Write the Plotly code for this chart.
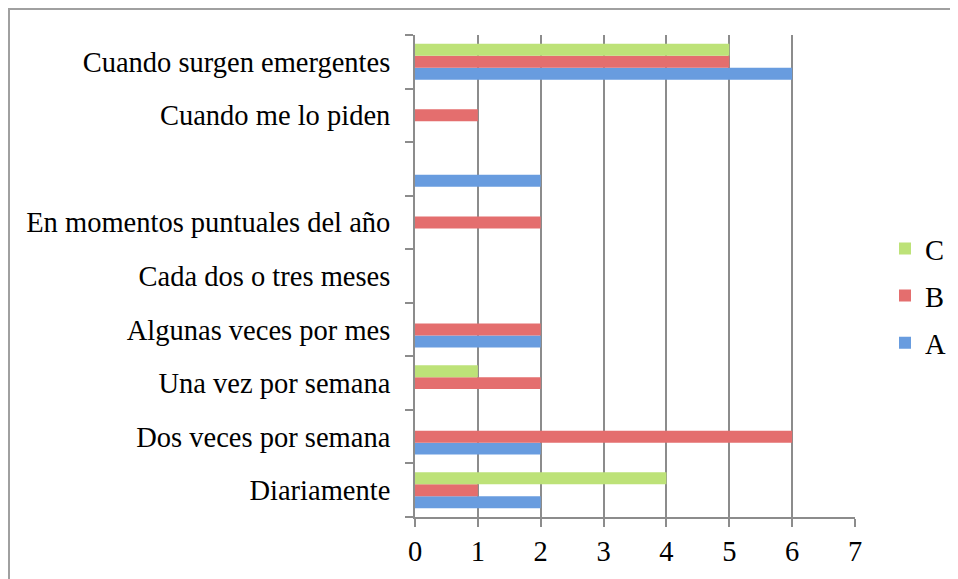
import plotly.graph_objects as go

categories = [
    "Diariamente",
    "Dos veces por semana",
    "Una vez por semana",
    "Algunas veces por mes",
    "Cada dos o tres meses",
    "En momentos puntuales del año",
    " ",
    "Cuando me lo piden",
    "Cuando surgen emergentes",
]
values_a = [2, 2, 0, 2, 0, 0, 2, 0, 6]
values_b = [1, 6, 2, 2, 0, 2, 0, 1, 5]
values_c = [4, 0, 1, 0, 0, 0, 0, 0, 5]
x_ticks = [0, 1, 2, 3, 4, 5, 6, 7]

FONT = "Liberation Serif"
FS = 28.5
GRAY = "#8c8c8c"

fig = go.Figure()
for name, vals, color, rank in [("A", values_a, "#689cdf", 3),
                                ("B", values_b, "#e46e6e", 2),
                                ("C", values_c, "#bde278", 1)]:
    fig.add_trace(go.Bar(
        y=categories, x=vals, name=name, orientation="h",
        marker=dict(color=color, line=dict(width=0)),
        legendgroup=name, legendrank=rank,
    ))

# page body has an 8px margin, so figure coords = screen coords - 8
OFF = 8
W, H = 958 - OFF, 579 - OFF
L, R, T, B = 415 - OFF, 855 - OFF, 35 - OFF, 517 - OFF

fig.update_layout(
    width=W, height=H,
    margin=dict(l=L, r=W - R, t=T, b=H - B, pad=0, autoexpand=False),
    paper_bgcolor="white", plot_bgcolor="white",
    barmode="group", bargap=0.33, bargroupgap=0,
    font=dict(family=FONT, size=FS, color="black"),
    showlegend=True,
    legend=dict(
        x=(885 - OFF - L) / (R - L), xanchor="left",
        y=(B - (296 - OFF)) / (B - T), yanchor="middle",
        traceorder="grouped", tracegroupgap=7,
        font=dict(family=FONT, size=FS, color="black"),
        bgcolor="rgba(0,0,0,0)",
    ),
    xaxis=dict(
        range=[0, 7], tickvals=x_ticks, showgrid=True,
        gridcolor=GRAY, gridwidth=2,
        showline=True, linecolor=GRAY, linewidth=2,
        ticks="outside", ticklen=8, tickwidth=2, tickcolor=GRAY,
        zeroline=False, fixedrange=True,
    ),
    yaxis=dict(
        type="category", categoryorder="array", categoryarray=categories,
        range=[-0.5, len(categories) - 0.5],
        showgrid=False, showline=True, linecolor=GRAY, linewidth=2,
        ticks="outside", tickson="boundaries", ticklen=8, tickwidth=2,
        tickcolor=GRAY, ticklabelstandoff=17, zeroline=False,
    ),
    shapes=[dict(
        type="rect", xref="paper", yref="paper",
        x0=(9 - OFF - L) / (R - L), x1=2.0,
        y0=-1.0, y1=(B - 1) / (B - T),
        line=dict(color="#a0a0a0", width=2), fillcolor="rgba(0,0,0,0)",
        layer="below",
    )],
)

fig.write_html("out.html")
